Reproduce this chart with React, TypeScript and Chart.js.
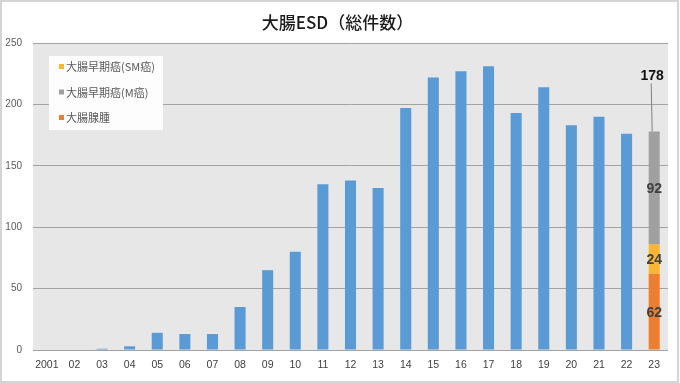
import React, { useEffect, useRef } from "react";
import { Chart, registerables } from "chart.js";

Chart.register(...registerables);

const categories = ["2001","02","03","04","05","06","07","08","09","10","11","12","13","14","15","16","17","18","19","20","21","22","23"];
const totalCases = [0,0,1,3,14,13,13,35,65,80,135,138,132,197,222,227,231,193,214,183,190,176,null];
const breakdownLabels = ["大腸腺腫","大腸早期癌(SM癌)","大腸早期癌(M癌)"];
const breakdownValues = [62,24,92];
const breakdownColors = ["#ed7d31","#f9b533","#a0a0a2"];
const legendOrder = [1,2,0];
const yTicks = [0,50,100,150,200,250];
const titleText = "大腸ESD（総件数）";

const FONT = "'Liberation Sans', 'Noto Sans CJK JP', sans-serif";
const CJK = "'Noto Sans CJK JP', 'Liberation Sans', sans-serif";

export default function App() {
  const ref = useRef<HTMLCanvasElement | null>(null);
  useEffect(() => {
    document.body.style.margin = "0";
    const canvas = ref.current!;
    const last = categories.length - 1;
    const breakdownSets = breakdownLabels.map((lab, i) => ({
      label: lab,
      data: categories.map((_, j) => (j === last ? breakdownValues[i] : null)),
      backgroundColor: breakdownColors[i],
      barPercentage: 0.4,
      categoryPercentage: 1,
    }));
    const deco = {
      id: "deco",
      beforeDraw(chart: any) {
        const { ctx, chartArea: a } = chart;
        ctx.save();
        ctx.fillStyle = "#ffffff";
        ctx.fillRect(0, 0, chart.width, chart.height);
        ctx.fillStyle = "#e7e7e7";
        ctx.fillRect(a.left, a.top, a.right - a.left, a.bottom - a.top);
        ctx.strokeStyle = "#d4d4d4";
        ctx.lineWidth = 2;
        ctx.strokeRect(1, 1, chart.width - 3, chart.height - 2);
        ctx.fillStyle = "#1a1a1a";
        ctx.font = `500 17px ${CJK}`;
        ctx.textAlign = "center";
        ctx.textBaseline = "middle";
        ctx.fillText(titleText, (a.left + a.right) / 2 - 13, 23);
        ctx.restore();
      },
      afterDatasetsDraw(chart: any) {
        const { ctx, chartArea: a } = chart;
        ctx.save();
        const lx = a.left + 16, ly = a.top + 13, lw = 114, lh = 74;
        ctx.fillStyle = "#fdfdfd";
        ctx.fillRect(lx, ly, lw, lh);
        ctx.font = `11px ${CJK}`;
        ctx.textBaseline = "middle";
        ctx.textAlign = "left";
        legendOrder.forEach((k, r) => {
          const cy = ly + 11 + r * 25.5;
          ctx.fillStyle = breakdownColors[k];
          ctx.fillRect(lx + 10, cy - 3, 5, 5);
          ctx.fillStyle = "#595959";
          ctx.fillText(breakdownLabels[k], lx + 17, cy);
        });
        ctx.textAlign = "center";
        ctx.font = `bold 14px ${FONT}`;
        ctx.fillStyle = "#404040";
        let topY = 0, topX = 0;
        breakdownLabels.forEach((_, i) => {
          const meta = chart.getDatasetMeta(i + 1);
          const el = meta.data[last];
          const props = el.getProps(["x", "y", "base"], true);
          ctx.fillText(String(breakdownValues[i]), props.x, (props.y + props.base) / 2 + 1);
          topY = props.y;
          topX = props.x;
        });
        const total = breakdownValues.reduce((s, v) => s + v, 0);
        ctx.strokeStyle = "#808080";
        ctx.lineWidth = 1;
        ctx.beginPath();
        ctx.moveTo(topX - 3, topY - 48);
        ctx.lineTo(topX - 2, topY);
        ctx.stroke();
        ctx.fillStyle = "#111111";
        ctx.fillText(String(total), topX - 2, topY - 55);
        ctx.restore();
      },
    };
    const chart = new Chart(canvas, {
      type: "bar",
      data: {
        labels: categories,
        datasets: [
          {
            label: "大腸ESD",
            data: totalCases,
            backgroundColor: "#5b9bd5",
            barPercentage: 0.4,
            categoryPercentage: 1,
          },
          ...breakdownSets,
        ] as any,
      },
      options: {
        animation: false,
        responsive: false,
        devicePixelRatio: 1,
        layout: { padding: { left: 0, right: 12, top: 43, bottom: 0 } },
        plugins: { legend: { display: false }, tooltip: { enabled: false }, title: { display: false } },
        scales: {
          x: {
            stacked: true,
            grid: { display: false, drawTicks: false },
            border: { display: false },
            ticks: { color: "#404040", font: { family: FONT, size: 10.5 }, padding: 9, maxRotation: 0, autoSkip: false },
            afterFit: (s: any) => { s.height = 33; },
          },
          y: {
            stacked: true,
            min: 0,
            max: 250,
            afterBuildTicks: (s: any) => { s.ticks = yTicks.map((v) => ({ value: v })); },
            grid: { color: "#a3a3a3", lineWidth: 1, drawTicks: false },
            border: { display: false },
            ticks: { color: "#595959", font: { family: FONT, size: 10 }, padding: 11 },
            afterFit: (s: any) => { s.width = 33; },
          },
        },
      },
      plugins: [deco],
    } as any);
    return () => chart.destroy();
  }, []);
  return <canvas ref={ref} width={680} height={383} style={{ display: "block" }} />;
}
